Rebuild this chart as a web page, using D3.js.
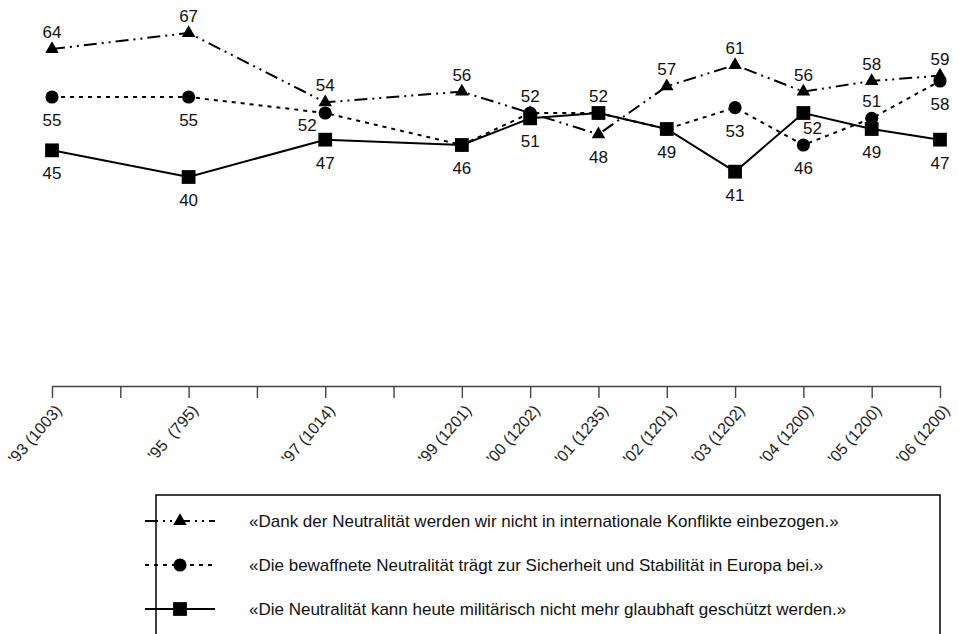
<!DOCTYPE html>
<html><head><meta charset="utf-8">
<script src="https://cdn.jsdelivr.net/npm/d3@7"></script>
<style>
body{margin:0;background:#fff;}
svg{display:block;font-family:"Liberation Sans",Arial,sans-serif;}
</style></head>
<body>
<svg id="chart" width="959" height="634"></svg>
<script>
const years = [1993, 1995, 1997, 1999, 2000, 2001, 2002, 2003, 2004, 2005, 2006];
const tickLabels = ["'93 (1003)", "'95  (795)", "'97 (1014)", "'99 (1201)", "'00 (1202)", "'01 (1235)",
  "'02 (1201)", "'03 (1202)", "'04 (1200)", "'05 (1200)", "'06 (1200)"];
const seriesNames = [
  "«Dank der Neutralität werden wir nicht in internationale Konflikte einbezogen.»",
  "«Die bewaffnete Neutralität trägt zur Sicherheit und Stabilität in Europa bei.»",
  "«Die Neutralität kann heute militärisch nicht mehr glaubhaft geschützt werden.»"
];
const konflikte = [64, 67, 54, 56, 52, 48, 57, 61, 56, 58, 59];
const stabilitaet = [55, 55, 52, 46, 52, 52, 49, 53, 46, 51, 58];
const geschuetzt = [45, 40, 47, 46, 51, 52, 49, 41, 52, 49, 47];
// label placement: a=above, b=below, l=below-left, r=below-right, n=none
const labelPlace = [
  ["a","a","a","a","a","b","a","a","a","a","a"],
  ["b","b","l","n","n","n","n","b","b","a","b"],
  ["b","b","b","b","b","a","b","b","r","b","b"]
];

const svg = d3.select("#chart");
const x = d3.scaleLinear().domain([1993, 2006]).range([52, 940]);
const y = d3.scaleLinear().domain([40, 67]).range([177, 33]);
const axisY = 386;

const styles = [
  {dash: "13,5,2,5,2,5", symbol: d3.symbolTriangle, size: 80},
  {dash: "4,5", symbol: d3.symbolCircle, size: 135},
  {dash: null, symbol: d3.symbolSquare, size: 190}
];
const allSeries = [konflikte, stabilitaet, geschuetzt];

// axis
const allYears = d3.range(1993, 2007);
const axis = d3.axisBottom(x).tickValues(allYears).tickSize(12).tickSizeOuter(0)
  .tickFormat(d => { const i = years.indexOf(d); return i < 0 ? "" : tickLabels[i]; });
const gAxis = svg.append("g").attr("transform", `translate(0,${axisY})`).call(axis);
gAxis.select(".domain").attr("stroke", "#444").attr("stroke-width", 1.6);
gAxis.selectAll(".tick line").attr("stroke", "#444").attr("stroke-width", 1.4);
gAxis.selectAll(".tick text")
  .attr("font-size", 16).attr("fill", "#222")
  .attr("font-family", "'Liberation Sans', Arial, sans-serif")
  .attr("text-anchor", "end")
  .attr("transform", "translate(10,25) rotate(-49)")
  .attr("x", 0).attr("y", 0).attr("dy", 0)
  .style("white-space", "pre");

// lines
allSeries.forEach((vals, si) => {
  const line = d3.line().x((d, i) => x(years[i])).y(d => y(d));
  svg.append("path").datum(vals).attr("d", line)
    .attr("fill", "none").attr("stroke", "#000").attr("stroke-width", 2)
    .attr("stroke-dasharray", styles[si].dash);
});
// markers
allSeries.forEach((vals, si) => {
  svg.append("g").selectAll("path").data(vals).join("path")
    .attr("d", d3.symbol().type(styles[si].symbol).size(styles[si].size))
    .attr("transform", (d, i) => `translate(${x(years[i])},${y(d)})`)
    .attr("fill", "#000");
});
// value labels
allSeries.forEach((vals, si) => {
  svg.append("g").selectAll("text").data(vals.map((v, i) => ({v, i}))).join("text")
    .filter(d => labelPlace[si][d.i] !== "n")
    .attr("x", d => {
      const p = labelPlace[si][d.i];
      return x(years[d.i]) + (p === "l" ? -18 : p === "r" ? 9 : 0);
    })
    .attr("y", d => {
      const p = labelPlace[si][d.i];
      const cy = y(d.v);
      if (p === "a") return cy - 11;
      if (p === "l") return cy + 18;
      if (p === "r") return cy + 21;
      return cy + 29;
    })
    .attr("text-anchor", "middle").attr("font-size", 17).attr("fill", "#111")
    .text(d => d.v);
});

// legend
const lg = svg.append("g");
lg.append("path").attr("d", "M156,640 V495 H940 V640")
  .attr("fill", "none").attr("stroke", "#000").attr("stroke-width", 1.5);
const rowY = [521, 565, 609];
seriesNames.forEach((name, si) => {
  const ry = rowY[si];
  lg.append("line").attr("x1", 145).attr("x2", 215).attr("y1", ry).attr("y2", ry)
    .attr("stroke", "#000").attr("stroke-width", 2).attr("stroke-dasharray", styles[si].dash);
  lg.append("path").attr("d", d3.symbol().type(styles[si].symbol).size(styles[si].size))
    .attr("transform", `translate(180,${ry})`).attr("fill", "#000");
  lg.append("text").attr("x", 249).attr("y", ry).attr("dy", "0.35em")
    .attr("font-size", 17).attr("fill", "#111").text(name);
});
</script>
</body></html>
